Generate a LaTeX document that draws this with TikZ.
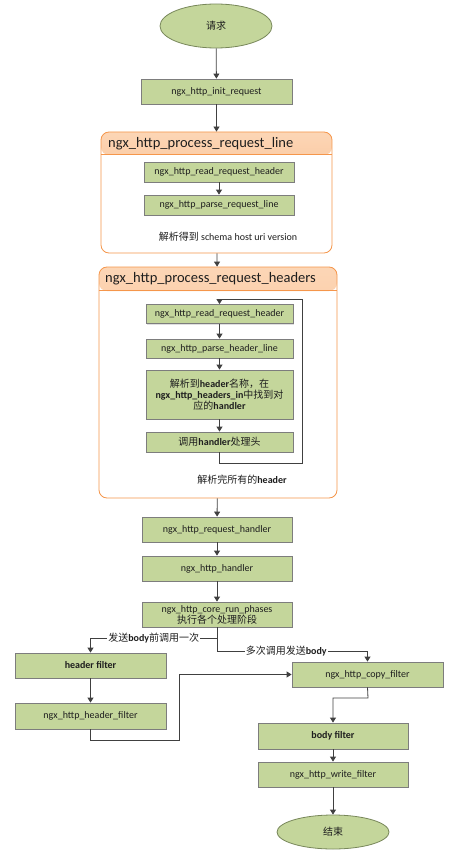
\documentclass[tikz,border=0pt]{standalone}
\usepackage{fontspec}
\setmainfont{Carlito}
\newfontfamily\cjk{Noto Sans CJK SC}
\usepackage{tikz}
\usetikzlibrary{positioning,arrows.meta,shapes.geometric,shadows}

\definecolor{boxgreen}{RGB}{196,214,155}
\definecolor{boxline}{RGB}{125,125,125}
\definecolor{ovalline}{RGB}{120,135,90}
\definecolor{bandtop}{RGB}{252,214,182}
\definecolor{bandbot}{RGB}{248,172,115}
\definecolor{bandline}{RGB}{245,150,75}
\definecolor{flowline}{RGB}{64,64,64}
\definecolor{txt}{RGB}{30,30,30}

\tikzset{
	stepbox/.style={draw=boxline, line width=0.8pt, fill=boxgreen, minimum width=150pt,
		minimum height=25pt, inner sep=1pt, align=center, text=txt,
		font=\fontsize{10}{11}\selectfont,
		drop shadow={shadow xshift=1pt, shadow yshift=-1pt, opacity=0.25}},
	endpt/.style={ellipse, draw=ovalline, line width=0.8pt, fill=boxgreen, minimum width=112pt,
		minimum height=44pt, inner sep=0pt, text=txt, font=\fontsize{10}{11}\selectfont\cjk},
	groupframe/.style={draw=bandline, line width=0.8pt, rounded corners=8pt, fill=white,
		path picture={\shade[top color=bandtop, bottom color=bandbot]
			(path picture bounding box.north west) rectangle
			([yshift=-#1]path picture bounding box.north east);}},
	bandsep/.style={draw=bandline, line width=0.8pt},
	headtext/.style={anchor=west, inner sep=0pt, text=txt, font=\fontsize{14.5}{16}\selectfont},
	note/.style={inner sep=1pt, text=txt, font=\fontsize{10}{11}\selectfont},
	lbl/.style={fill=white, inner sep=1pt, text=txt, font=\fontsize{10}{11}\selectfont},
	flow/.style={draw=flowline, line width=0.8pt, -{Triangle[width=6pt,length=5pt]}},
	link/.style={draw=flowline, line width=0.8pt}
}

\begin{document}
\begin{tikzpicture}[x=1pt, y=-1pt]
	\useasboundingbox (0,0) rectangle (456,853);

	\node[endpt] (req) at (216,26) {请求};
	\node[stepbox, minimum width=151pt] (init) at (216.5,91.5) {ngx\_http\_init\_request};

	% process_request_line
	\node[groupframe=23pt, minimum width=231pt, minimum height=121pt] (prl) at (216.5,192.5) {};
	\draw[bandsep] ([yshift=-23pt]prl.north west) -- ([yshift=-23pt]prl.north east);
	\node[headtext] (prltitle) at (108,143.5) {ngx\_http\_process\_request\_line};
	\node[stepbox, minimum height=20pt] (rrha) at (219,172) {ngx\_http\_read\_request\_header};
	\node[stepbox, minimum height=20pt] (prline) at (219,205) {ngx\_http\_parse\_request\_line};
	\node[note] (prlnote) at (228,237) {{\cjk 解析得到} schema host uri version};

	% process_request_headers
	\node[groupframe=24pt, minimum width=238pt, minimum height=231pt] (prh) at (218,382.5) {};
	\draw[bandsep] ([yshift=-24pt]prh.north west) -- ([yshift=-24pt]prh.north east);
	\node[headtext] (prhtitle) at (105,279) {ngx\_http\_process\_request\_headers};
	\node[stepbox, minimum width=147pt, minimum height=19pt] (rrhb) at (219.5,314) {ngx\_http\_read\_request\_header};
	\node[stepbox, minimum width=147pt, minimum height=19pt] (phline) at (219.5,348.5) {ngx\_http\_parse\_header\_line};
	\node[stepbox, minimum width=147pt, minimum height=49pt] (lookup) at (219.5,394.5)
		{{\cjk 解析到}\textbf{header}{\cjk 名称，在}\\\textbf{ngx\_http\_headers\_in}{\cjk 中找到对}\\{\cjk 应的}\textbf{handler}};
	\node[stepbox, minimum width=147pt, minimum height=20pt] (callh) at (219.5,442) {{\cjk 调用}\textbf{handler}{\cjk 处理头}};
	\node[note] (prhnote) at (242,480) {{\cjk 解析完所有的}\textbf{header}};
	\coordinate (loopbot) at (219.5,463);
	\coordinate (looptop) at (302,299);

	\node[stepbox] (rqh) at (217,529.5) {ngx\_http\_request\_handler};
	\node[stepbox] (hdl) at (217,568.5) {ngx\_http\_handler};
	\node[stepbox] (phases) at (217,614.5) {ngx\_http\_core\_run\_phases\\{\cjk 执行各个处理阶段}};
	\coordinate (brA) at (217,638);
	\coordinate (brB) at (217,651);

	\node[stepbox, minimum width=151pt] (hfilt) at (90.5,665.5) {\textbf{header filter}};
	\node[stepbox, minimum width=151pt, minimum height=26pt] (hdrf) at (90.5,716) {ngx\_http\_header\_filter};
	\coordinate (hret) at (179,740);
	\node[stepbox, minimum width=151pt] (copy) at (367.5,674.5) {ngx\_http\_copy\_filter};
	\coordinate (cjoin) at (368,698);
	\node[stepbox, minimum height=26pt] (bfilt) at (333,736) {\textbf{body filter}};
	\node[stepbox] (wfilt) at (333,774.5) {ngx\_http\_write\_filter};
	\node[endpt, minimum height=34pt] (done) at (333,832) {结束};

	\draw[flow] (req) -- (init);
	\draw[flow] (init) -- (prl);
	\draw[flow] (rrha) -- (prline);
	\draw[flow] (prl) -- (prh);
	\draw[flow] (rrhb) -- (phline);
	\draw[flow] (phline) -- (lookup);
	\draw[flow] (lookup) -- (callh);
	\draw[flow] (callh.south) -- (loopbot) -| (looptop) -| (rrhb.north);
	\draw[flow] (prh) -- (rqh);
	\draw[flow] (rqh) -- (hdl);
	\draw[flow] (hdl) -- (phases);
	\draw[flow] (phases.south) -- (brA) -| node[lbl, pos=0.25] {{\cjk 发送}\textbf{body}{\cjk 前调用一次}} (hfilt.north);
	\draw[flow] (brA) -- (brB) -| node[lbl, pos=0.23] {{\cjk 多次调用发送}\textbf{body}} (copy.north);
	\draw[flow] (hfilt) -- (hdrf);
	\draw[flow] (hdrf.south) |- (hret) |- (copy.west);
	\draw[flow] (copy.south) -- (cjoin) -| (bfilt.north);
	\draw[flow] (bfilt) -- (wfilt);
	\draw[flow] (wfilt) -- (done);
\end{tikzpicture}
\end{document}
